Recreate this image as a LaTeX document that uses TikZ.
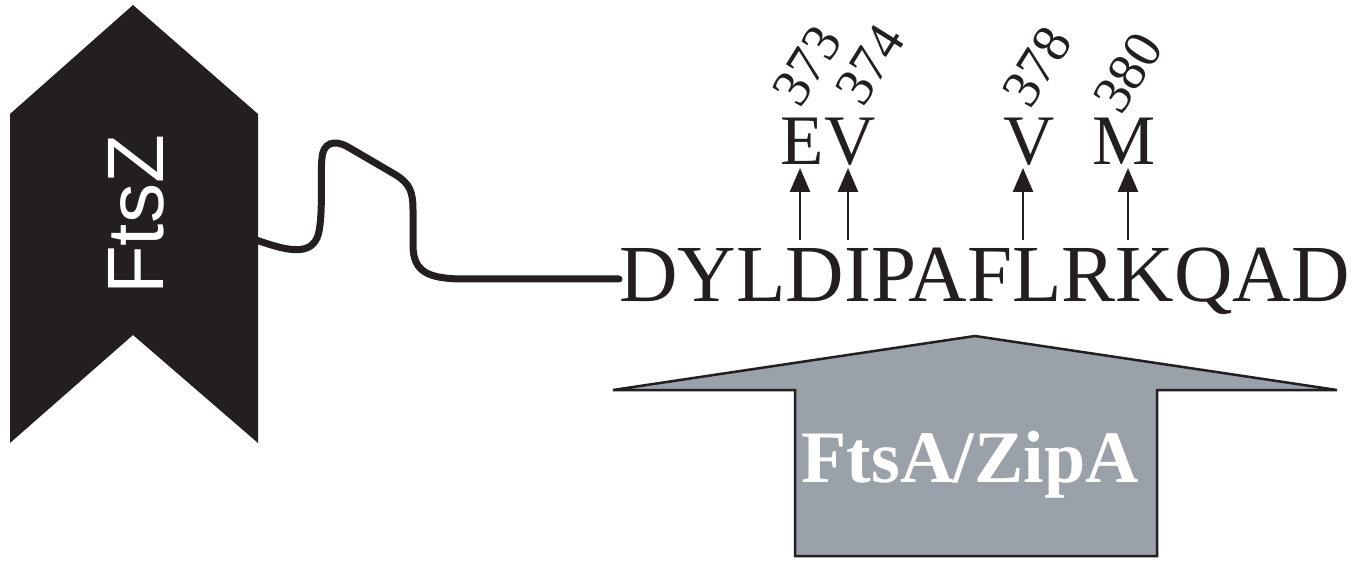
\documentclass[tikz,border=0pt]{standalone}
\usepackage{fontspec}
\setmainfont{Liberation Serif}
\newfontfamily\sansfont{Liberation Sans}
\usetikzlibrary{arrows.meta}
\definecolor{ink}{HTML}{231F20}
\definecolor{zipgray}{HTML}{9BA1A8}
\tikzset{
  wire/.style={ink, line width=7pt, line cap=round, line join=round},
  mutarrow/.style={ink, line width=2.5pt, -{Triangle[width=20pt,length=24pt]}},
  aa/.style={ink, inner sep=0pt, font=\fontsize{71}{71}\selectfont},
  resnum/.style={ink, inner sep=0pt, rotate=58, font=\fontsize{54}{54}\selectfont},
}
\begin{document}
\begin{tikzpicture}[x=1pt,y=-1pt]
\useasboundingbox (0,0) rectangle (1366,561);

% FtsZ chevron
\fill[ink] (133,5) -- (258,114) -- (258,443) -- (133,335) -- (10,443) -- (10,114) -- cycle;
\node[white, inner sep=0pt, rotate=90, font=\sansfont\fontsize{80}{80}\selectfont] (ftsz) at (136,215) {FtsZ};
\coordinate (tether) at (256,240);

% C-terminal peptide
\node[ink, anchor=base west, inner sep=0pt, font=\fontsize{81}{81}\selectfont] (seq) at (619,302) {DYLDIPAFLRKQAD};

% flexible linker
\draw[wire] (tether) .. controls (280,248) and (308,258) .. (317,238)
  .. controls (324,222) and (320,172) .. (322,158)
  .. controls (323,143) and (334,139) .. (348,147)
  -- (396,175)
  .. controls (410,184) and (413,192) .. (413,210)
  -- (413,245)
  .. controls (413,272) and (428,279) .. (465,279)
  -- (seq.west |- 0,279);

% substitutions
\node[aa, anchor=base] (mE373) at (802,165) {E};
\node[aa, anchor=base] (mV374) at (850,165) {V};
\node[aa, anchor=base] (mV378) at (1029,165) {V};
\node[aa, anchor=base] (mM380) at (1124,165) {M};

\coordinate (d373) at (800,240);
\coordinate (i374) at (848,240);
\coordinate (l378) at (1023,240);
\coordinate (k380) at (1128,240);
\draw[mutarrow] (d373) -- (d373 |- 0,168);
\draw[mutarrow] (i374) -- (i374 |- 0,168);
\draw[mutarrow] (l378) -- (l378 |- 0,168);
\draw[mutarrow] (k380) -- (k380 |- 0,168);

\node[resnum] (n373) at (807,66) {373};
\node[resnum] (n374) at (870,65) {374};
\node[resnum] (n378) at (1037,67) {378};
\node[resnum] (n380) at (1128,73) {380};

% FtsA/ZipA binding arrow
\filldraw[fill=zipgray, draw=ink, line width=2.5pt, line join=miter]
  (795,556) -- (795,390) -- (613,390) -- (975,336) -- (1337,390) -- (1157,390) -- (1157,556) -- cycle;
\node[white, anchor=base, inner sep=0pt, font=\bfseries\fontsize{74}{74}\selectfont] (zip) at (970,482) {FtsA/ZipA};
\end{tikzpicture}
\end{document}
